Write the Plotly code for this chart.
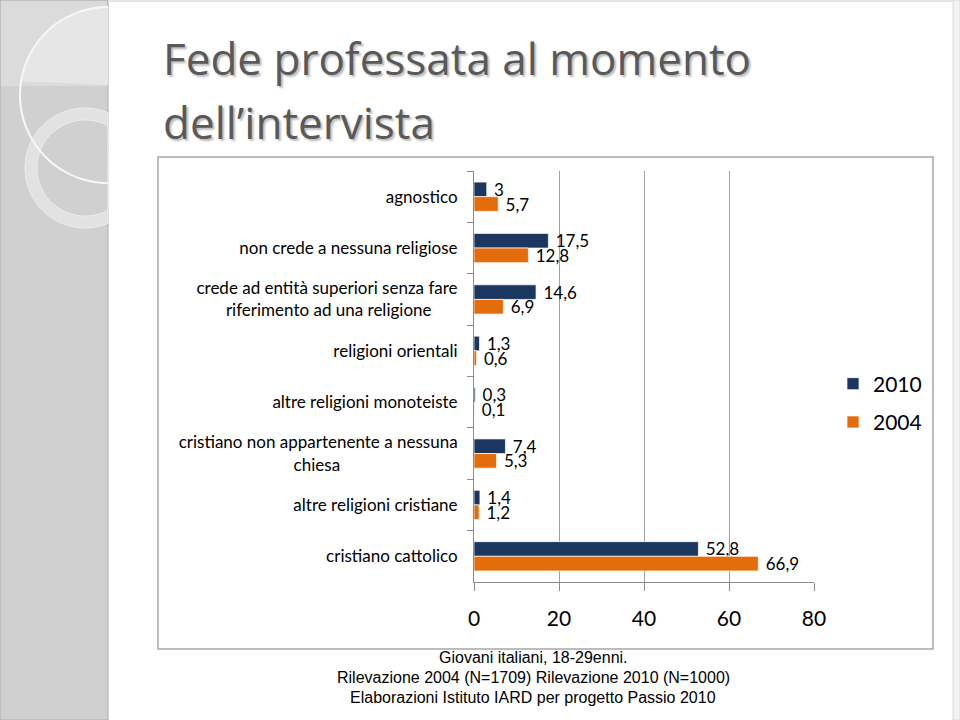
import math
import plotly.graph_objects as go

categories = [
    "agnostico",
    "non crede a nessuna religiose",
    "crede ad entità superiori senza fare<br>riferimento ad una religione" + "\u00a0" * 6,
    "religioni orientali",
    "altre religioni monoteiste",
    "cristiano non appartenente a nessuna<br>chiesa" + "\u00a0" * 27,
    "altre religioni cristiane",
    "cristiano cattolico",
]
values_2010 = [3, 17.5, 14.6, 1.3, 0.3, 7.4, 1.4, 52.8]
values_2004 = [5.7, 12.8, 6.9, 0.6, 0.1, 5.3, 1.2, 66.9]
series_names = ["2010", "2004"]
x_ticks = [0, 20, 40, 60, 80]

title_lines = ["Fede professata al momento", "dell\u2019intervista"]
footnote_lines = [
    "Giovani italiani, 18-29enni.",
    "Rilevazione 2004 (N=1709) Rilevazione 2010 (N=1000)",
    "Elaborazioni Istituto IARD per progetto Passio 2010",
]

NAVY = "#1B375F"
ORANGE = "#E46C0A"

W, H = 960, 720
ML, MR, MT, MB = 474, 146, 171, 138
PW, PH = W - ML - MR, H - MT - MB


def px(x):
    return (x - ML) / PW


def py(y):
    return (H - MB - y) / PH


def path_from(points, close=True):
    s = "M " + " L ".join("%.5f,%.5f" % (px(x), py(y)) for x, y in points)
    return s + (" Z" if close else "")


def arc(cx, cy, r, a0, a1, n=60):
    return [(cx + r * math.cos(math.radians(a0 + (a1 - a0) * i / n)),
             cy + r * math.sin(math.radians(a0 + (a1 - a0) * i / n))) for i in range(n + 1)]


def fmt(v):
    return "\u00a0" + ("%g" % v).replace(".", ",")


fig = go.Figure()
for name, vals, col in [(series_names[0], values_2010, NAVY), (series_names[1], values_2004, ORANGE)]:
    fig.add_trace(go.Bar(
        y=categories, x=vals, orientation="h", name=name,
        marker=dict(color=col, line=dict(color="rgba(255,255,255,0.7)", width=1)),
        text=[fmt(v) for v in vals], textposition="outside",
        textfont=dict(family="Lato", size=17, color="#000000"),
        constraintext="none", cliponaxis=False, legendgroup=name,
    ))

STRIP = 108
big_c = (108, 95, 88)
big_top = [p for p in arc(*big_c, 270, 90) if p[1] <= 85]
big_fill = big_top + [(STRIP, 85), (STRIP, big_top[0][1])]
big_outline = arc(*big_c, 270, 90)
ring_cx, ring_cy, ro, ri = 85, 168, 60, 48
outer = [(min(x, STRIP), y) for x, y in arc(ring_cx, ring_cy, ro, 0, 360, 120)]
inner = [(min(x, STRIP), y) for x, y in arc(ring_cx, ring_cy, ri, 360, 0, 120)]
ring_path = path_from(outer) + " " + path_from(inner)

shapes = [
    dict(type="rect", xref="paper", yref="paper", x0=px(0), x1=px(STRIP), y0=py(720), y1=py(0),
         fillcolor="#D0D0D0", line=dict(color="#ABABAB", width=1), layer="below"),
    dict(type="rect", xref="paper", yref="paper", x0=px(1), x1=px(STRIP - 1), y0=py(86), y1=py(1),
         fillcolor="#DBDBDB", line=dict(width=0), layer="below"),
    dict(type="path", xref="paper", yref="paper", path=path_from(big_fill),
         fillcolor="#E6E6E6", line=dict(width=0), layer="below"),
    dict(type="path", xref="paper", yref="paper", path=ring_path,
         fillcolor="#E2E2E2", line=dict(color="#EDEDED", width=1), layer="below"),
    dict(type="path", xref="paper", yref="paper", path=path_from(big_outline, close=False),
         fillcolor="rgba(0,0,0,0)", line=dict(color="#F7F7F7", width=2), layer="below"),
    dict(type="rect", xref="paper", yref="paper", x0=px(STRIP + 1), x1=px(953), y0=py(720), y1=py(2),
         fillcolor="#FFFFFF", line=dict(width=0), layer="below"),
    dict(type="rect", xref="paper", yref="paper", x0=px(STRIP), x1=px(960), y0=py(2), y1=py(0),
         fillcolor="#E6E6E6", line=dict(width=0), layer="below"),
    dict(type="rect", xref="paper", yref="paper", x0=px(953), x1=px(960), y0=py(720), y1=py(0),
         fillcolor="#F3F3F3", line=dict(color="#DADADA", width=1), layer="below"),
    dict(type="rect", xref="paper", yref="paper", x0=px(158), x1=px(933), y0=py(649), y1=py(157),
         fillcolor="#FFFFFF", line=dict(color="#A6A6A6", width=1.5), layer="below"),
]

annotations = []
title_y = [58, 122]
for line, yy in zip(title_lines, title_y):
    annotations.append(dict(
        text=line, xref="paper", yref="paper", x=px(161), y=py(yy),
        xanchor="left", yanchor="middle", showarrow=False,
        font=dict(family="Open Sans", size=44, color="#595959",
                  shadow="2px 2px 2px #BBBBBB"),
    ))
for i, line in enumerate(footnote_lines):
    annotations.append(dict(
        text=line, xref="paper", yref="paper", x=px(533), y=py(657 + 20 * i),
        xanchor="center", yanchor="middle", showarrow=False,
        font=dict(family="Liberation Sans", size=16, color="#000000"),
    ))

fig.update_layout(
    width=W, height=H,
    margin=dict(l=ML, r=MR, t=MT, b=MB, pad=0),
    paper_bgcolor="#FFFFFF", plot_bgcolor="rgba(0,0,0,0)",
    barmode="group", bargap=0.43, bargroupgap=0,
    shapes=shapes, annotations=annotations,
    showlegend=True,
    legend=dict(x=px(833), y=py(403), xanchor="left", yanchor="middle",
                font=dict(family="Lato", size=21, color="#000000"),
                traceorder="grouped", tracegroupgap=8, bgcolor="rgba(0,0,0,0)",
                itemwidth=30),
    font=dict(family="Lato", color="#000000"),
)
fig.update_yaxes(
    autorange="reversed", showline=True, linecolor="#8C8C8C", linewidth=1,
    ticks="outside", tickson="boundaries", ticklen=6, tickcolor="#8C8C8C",
    tickfont=dict(family="Lato", size=17, color="#000000"), showgrid=False,
    ticklabelstandoff=12,
)
fig.update_xaxes(
    range=[0, 80], tickvals=x_ticks, showgrid=True, gridcolor="#A0A0A0", gridwidth=1,
    showline=True, linecolor="#8C8C8C", ticks="outside", ticklen=8, tickcolor="#8C8C8C",
    tickfont=dict(family="Lato", size=21, color="#000000"), ticklabelstandoff=10,
    zeroline=False,
)

fig.write_html("out.html")
